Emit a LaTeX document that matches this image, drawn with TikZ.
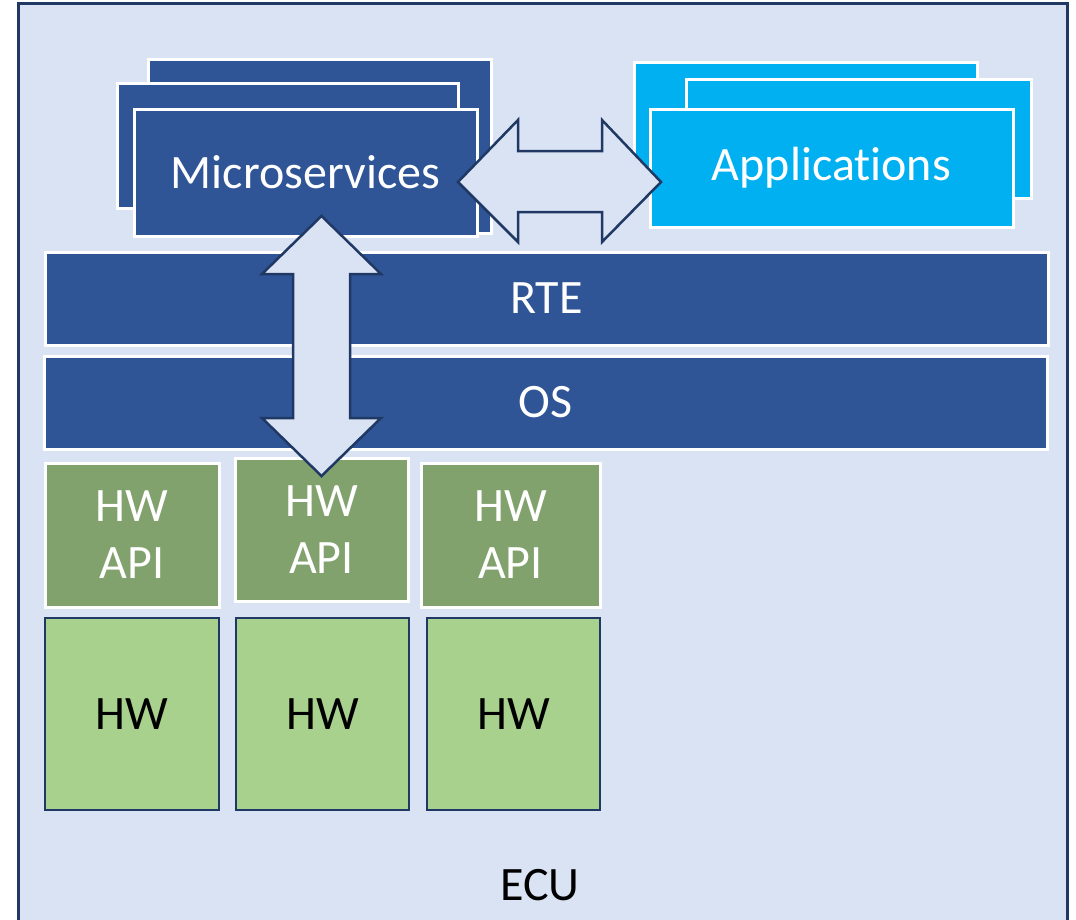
\documentclass[tikz,border=0pt]{standalone}
\usepackage{fontspec}
\setmainfont{Carlito}[RawFeature={-liga;-dlig;-clig}]
\definecolor{bgblue}{HTML}{DAE3F3}
\definecolor{navy}{HTML}{1F3864}
\definecolor{dblue}{HTML}{2F5597}
\definecolor{cyanb}{HTML}{00B0F0}
\definecolor{apigreen}{HTML}{81A16D}
\definecolor{hwgreen}{HTML}{A9D18E}
\tikzset{
  blk/.style={draw=white, line width=3pt, inner sep=0pt, font=\fontsize{48}{57}\selectfont, text=white, align=center},
  darkbox/.style={blk, fill=dblue},
  appbox/.style={blk, fill=cyanb},
  apibox/.style={blk, fill=apigreen},
  hwbox/.style={blk, draw=navy, line width=2pt, fill=hwgreen, text=black},
  blockarrow/.style={draw=navy, line width=2.5pt, fill=bgblue, line join=miter},
}
\begin{document}
\begin{tikzpicture}[x=1pt,y=-1pt]
\useasboundingbox (0,0) rectangle (1076,919);
\clip (0,0) rectangle (1076,919);
\fill[white] (0,0) rectangle (1076,919);
% ECU frame
\draw[navy, line width=3pt, fill=bgblue] (18,3) rectangle (1067,940);
\node[font=\fontsize{48}{57}\selectfont] (ecu) at (540,885) {ECU};
% Microservices stack
\node[darkbox, minimum width=343pt, minimum height=174pt] (mback) at (319.5,146) {};
\node[darkbox, minimum width=341pt, minimum height=125pt] (mmid) at (287.5,145.5) {};
\node[darkbox, minimum width=343pt, minimum height=127pt] (micro) at (305.5,172.5) {Microservices};
% Applications stack
\node[appbox, minimum width=343pt, minimum height=128pt] (aback) at (805.5,126) {};
\node[appbox, minimum width=345pt, minimum height=119pt] (amid) at (858.5,138.5) {};
\node[appbox, minimum width=363pt, minimum height=118pt] (apps) at (831.5,168) {Applications};
% RTE and OS
\node[darkbox, minimum width=1003pt, minimum height=93pt] (rte) at (546.5,298.5) {RTE};
\node[darkbox, minimum width=1003pt, minimum height=93pt] (os) at (545.5,402.5) {OS};
% HW API
\node[apibox, minimum width=174pt, minimum height=144pt] (api1) at (132,535) {HW\\API};
\node[apibox, minimum width=173pt, minimum height=143pt] (api2) at (321.5,530) {HW\\API};
\node[apibox, minimum width=179pt, minimum height=144pt] (api3) at (510.5,535) {HW\\API};
% HW
\node[hwbox, minimum width=174pt, minimum height=192pt] (hw1) at (132,714) {HW};
\node[hwbox, minimum width=173pt, minimum height=192pt] (hw2) at (322.5,714) {HW};
\node[hwbox, minimum width=173pt, minimum height=192pt] (hw3) at (513.5,714) {HW};
% horizontal double block arrow
\draw[blockarrow] (458,182) -- (518,120) -- (518,151) -- (602,151) -- (602,120) -- (661,182)
  -- (602,242) -- (602,212) -- (518,212) -- (518,242) -- cycle;
% vertical double block arrow
\draw[blockarrow] (321.5,216) -- (381,274) -- (350,274) -- (350,418) -- (381,418) -- (321.5,476)
  -- (262,418) -- (293,418) -- (293,274) -- (262,274) -- cycle;
\end{tikzpicture}
\end{document}
